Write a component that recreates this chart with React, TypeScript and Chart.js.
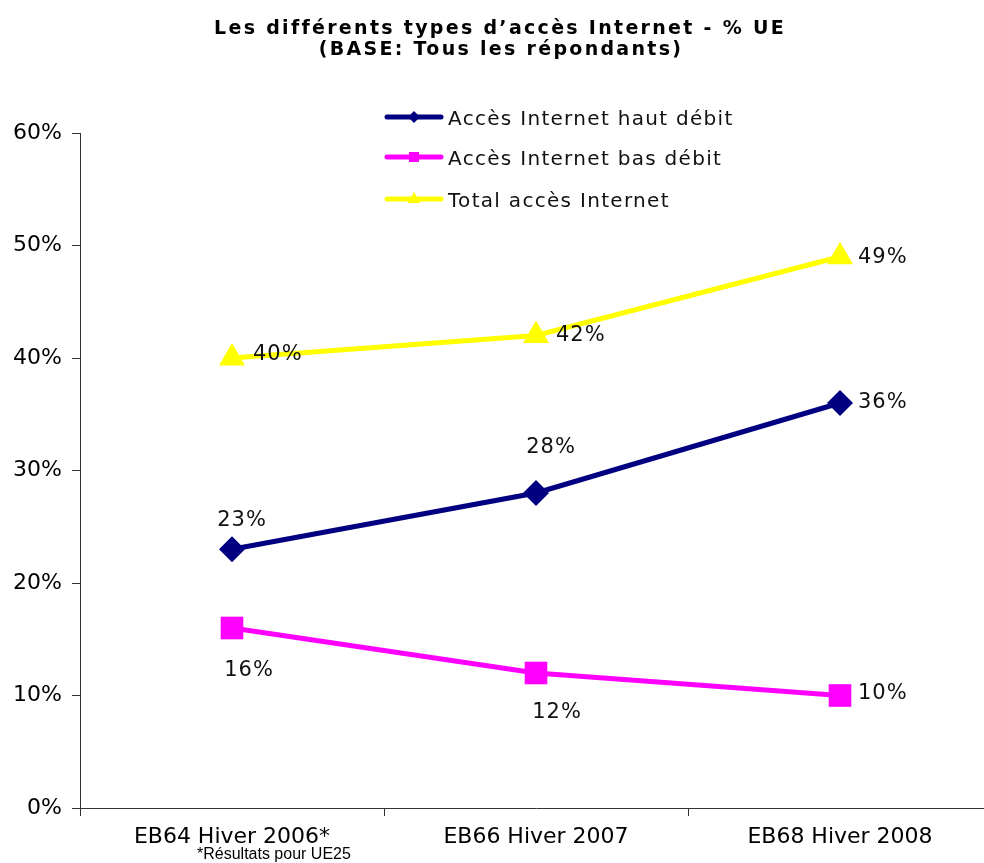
import React, { useEffect, useRef } from 'react';
import { Chart, registerables } from 'chart.js';

Chart.register(...registerables);

// ---- Data ----
const categories = ['EB64 Hiver 2006*', 'EB66 Hiver 2007', 'EB68 Hiver 2008'];
const hautDebit = [23, 28, 36];
const basDebit = [16, 12, 10];
const totalAcces = [40, 42, 49];
const seriesNames = ['Accès Internet haut débit', 'Accès Internet bas débit', 'Total accès Internet'];
const titleLines = ['Les différents types d’accès Internet - % UE', '(BASE: Tous les répondants)'];
const footnote = '*Résultats pour UE25';
const yMin = 0;
const yMax = 60;
const yStep = 10;

// ---- Styles ----
const seriesColors = ['#000080', '#FF00FF', '#FFFF00'];
const seriesPointStyles = ['rectRot', 'rect', 'triangle'];
const seriesPointRadius = [13, 16, 15];
// label placement per point (dx, dy in pixels, alignment)
const labelPlacement = [
  [
    { dx: 10, dy: -29, align: 'center' },
    { dx: 15, dy: -45, align: 'center' },
    { dx: 18, dy: 0, align: 'left' },
  ],
  [
    { dx: 17, dy: 43, align: 'center' },
    { dx: 21, dy: 40, align: 'center' },
    { dx: 18, dy: -2, align: 'left' },
  ],
  [
    { dx: 21, dy: -3, align: 'left' },
    { dx: 20, dy: 0, align: 'left' },
    { dx: 18, dy: 1, align: 'left' },
  ],
];
const legendLineY = [117, 157, 199];

const overlayPlugin = {
  id: 'overlay',
  afterDatasetsDraw(chart: any) {
    const ctx = chart.ctx as CanvasRenderingContext2D;
    ctx.save();
    ctx.font = '21px "DejaVu Sans"';
    ctx.fillStyle = '#111';
    ctx.textBaseline = 'middle';
    (ctx as any).letterSpacing = '1px';
    chart.data.datasets.forEach((ds: any, di: number) => {
      const meta = chart.getDatasetMeta(di);
      meta.data.forEach((pt: any, i: number) => {
        const p = labelPlacement[di][i];
        ctx.textAlign = p.align as CanvasTextAlign;
        ctx.fillText(ds.data[i] + '%', pt.x + p.dx, pt.y + p.dy);
      });
    });
    ctx.restore();
  },
  afterDraw(chart: any) {
    const ctx = chart.ctx as CanvasRenderingContext2D;
    // Title
    ctx.save();
    ctx.font = 'bold 19px "DejaVu Sans"';
    ctx.fillStyle = '#000';
    ctx.textAlign = 'center';
    ctx.textBaseline = 'middle';
    (ctx as any).letterSpacing = '2.3px';
    ctx.fillText(titleLines[0], 500, 29);
    ctx.fillText(titleLines[1], 501, 50);
    ctx.restore();

    // Legend
    ctx.save();
    chart.data.datasets.forEach((ds: any, di: number) => {
      const y = legendLineY[di];
      ctx.strokeStyle = seriesColors[di];
      ctx.lineWidth = 5;
      ctx.lineCap = 'round';
      ctx.beginPath();
      ctx.moveTo(387, y);
      ctx.lineTo(441, y);
      ctx.stroke();
      ctx.fillStyle = seriesColors[di];
      const cx = 414;
      ctx.beginPath();
      if (di === 0) {
        ctx.moveTo(cx, y - 6);
        ctx.lineTo(cx + 6, y);
        ctx.lineTo(cx, y + 6);
        ctx.lineTo(cx - 6, y);
        ctx.closePath();
      } else if (di === 1) {
        ctx.rect(cx - 5, y - 5, 10, 10);
      } else {
        ctx.moveTo(cx, y - 7);
        ctx.lineTo(cx + 6.5, y + 4);
        ctx.lineTo(cx - 6.5, y + 4);
        ctx.closePath();
      }
      ctx.fill();
      ctx.font = '20px "DejaVu Sans"';
      (ctx as any).letterSpacing = '1.3px';
      ctx.fillStyle = '#111';
      ctx.textAlign = 'left';
      ctx.textBaseline = 'middle';
      ctx.fillText(ds.label, 448, y + 3);
      (ctx as any).letterSpacing = '0px';
    });
    ctx.restore();

    // Footnote
    ctx.save();
    ctx.font = '16px "Liberation Sans"';
    ctx.fillStyle = '#000';
    ctx.textAlign = 'left';
    ctx.textBaseline = 'middle';
    ctx.fillText(footnote, 197, 855);
    ctx.restore();
  },
};

export default function App() {
  const canvasRef = useRef<HTMLCanvasElement | null>(null);

  useEffect(() => {
    if (!canvasRef.current) return;
    const seriesData = [hautDebit, basDebit, totalAcces];
    const chart = new Chart(canvasRef.current, {
      type: 'line',
      data: {
        labels: categories,
        datasets: seriesData.map((d, i) => ({
          label: seriesNames[i],
          data: d,
          borderColor: seriesColors[i],
          backgroundColor: seriesColors[i],
          borderWidth: 5,
          tension: 0,
          fill: false,
          pointStyle: seriesPointStyles[i] as any,
          pointRadius: seriesPointRadius[i],
          pointHoverRadius: seriesPointRadius[i],
          pointBackgroundColor: seriesColors[i],
          pointBorderColor: seriesColors[i],
          pointBorderWidth: 0,
        })),
      },
      options: {
        responsive: false,
        animation: false,
        devicePixelRatio: 1,
        layout: { autoPadding: false, padding: { top: 133, right: 8, left: 0, bottom: 0 } },
        plugins: {
          legend: { display: false },
          title: { display: false },
          tooltip: { enabled: false },
        },
        scales: {
          x: {
            type: 'category',
            offset: true,
            grid: {
              display: true,
              drawOnChartArea: false,
              drawTicks: true,
              tickLength: 8,
              offset: true,
              color: '#333',
              lineWidth: 1,
            },
            border: { display: true, color: '#333', width: 1 },
            ticks: {
              font: { family: '"DejaVu Sans"', size: 22 },
              color: '#000',
              padding: 8,
              maxRotation: 0,
              autoSkip: false,
            },
            afterFit: (s: any) => {
              s.height = 55;
            },
          },
          y: {
            min: yMin,
            max: yMax,
            grid: {
              display: true,
              drawOnChartArea: false,
              drawTicks: true,
              tickLength: 8,
              color: '#333',
              lineWidth: 1,
            },
            border: { display: true, color: '#333', width: 1 },
            ticks: {
              stepSize: yStep,
              callback: (v: any) => v + '%',
              font: { family: '"DejaVu Sans"', size: 22 },
              color: '#000',
              padding: 10,
            },
            afterFit: (s: any) => {
              s.width = 80;
            },
          },
        },
      },
      plugins: [overlayPlugin],
    });
    return () => chart.destroy();
  }, []);

  return (
    <div
      style={{
        position: 'absolute',
        left: 0,
        top: 0,
        width: 984,
        height: 863,
        overflow: 'hidden',
        background: '#fff',
      }}
    >
      <canvas ref={canvasRef} width={1000} height={863} style={{ width: 1000, height: 863, display: 'block' }} />
    </div>
  );
}
